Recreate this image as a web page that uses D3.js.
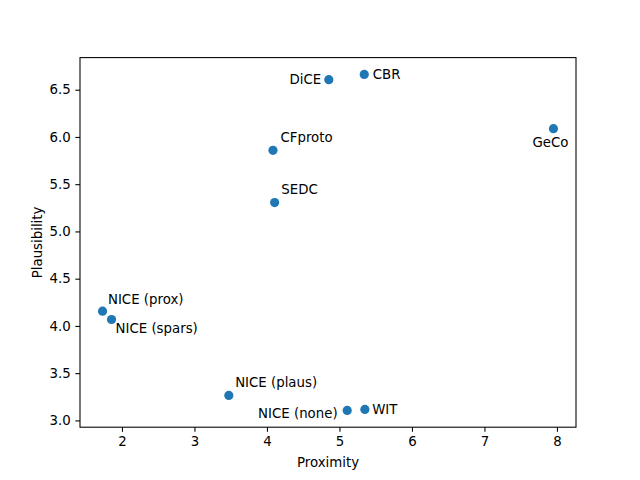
<!DOCTYPE html>
<html>
<head>
<meta charset="utf-8">
<script src="https://cdn.jsdelivr.net/npm/d3@7"></script>
<style>
  body { margin: 0; background: #fff; }
  svg text { font-family: "DejaVu Sans", sans-serif; fill: #000; }
</style>
</head>
<body>
<div id="chart"></div>
<script>
// data
const methods = ['DiCE', 'CBR', 'GeCo', 'CFproto', 'SEDC', 'NICE (prox)', 'NICE (spars)', 'NICE (plaus)', 'NICE (none)', 'WIT'];
const proximity = [4.853, 5.342, 7.952, 4.083, 4.106, 1.732, 1.856, 3.474, 5.107, 5.351];
const plausibility = [6.606, 6.662, 6.088, 5.858, 5.305, 4.156, 4.068, 3.264, 3.106, 3.116];
const xTicks = [2, 3, 4, 5, 6, 7, 8];
const yTicks = [3.0, 3.5, 4.0, 4.5, 5.0, 5.5, 6.0, 6.5];

// label placement (offset from the point, in px) - layout only
const labelPlace = [
    { dx: -7.5, dy: 4.5, anchor: 'end' },
    { dx: 8.5, dy: 4.3, anchor: 'start' },
    { dx: -3, dy: 18.5, anchor: 'middle' },
    { dx: 7.5, dy: -8.3, anchor: 'start' },
    { dx: 6.7, dy: -9, anchor: 'start' },
    { dx: 5.4, dy: -7, anchor: 'start' },
    { dx: 4, dy: 13.4, anchor: 'start' },
    { dx: 6.3, dy: -8.6, anchor: 'start' },
    { dx: -9.6, dy: 8, anchor: 'end' },
    { dx: 7.3, dy: 4.7, anchor: 'start' }
];

const width = 640;
const height = 480;
const margin = { top: 57.6, right: 64, bottom: 52.8, left: 80 };
const color = '#1f77b4';

// matplotlib style 5% padding on the data range
function padded(values) {
    const [lo, hi] = d3.extent(values);
    const pad = (hi - lo) * 0.05;
    return [lo - pad, hi + pad];
}

const x = d3.scaleLinear()
    .domain(padded(proximity))
    .range([margin.left, width - margin.right]);

const y = d3.scaleLinear()
    .domain(padded(plausibility))
    .range([height - margin.bottom, margin.top]);

const svg = d3.select('#chart')
    .append('svg')
    .attr('width', width)
    .attr('height', height);

const xAxis = svg.append('g')
    .attr('transform', `translate(0,${height - margin.bottom})`)
    .call(d3.axisBottom(x).tickValues(xTicks).tickFormat(d3.format('d')).tickSize(4.67).tickPadding(4.67));

const yAxis = svg.append('g')
    .attr('transform', `translate(${margin.left},0)`)
    .call(d3.axisLeft(y).tickValues(yTicks).tickFormat(d3.format('.1f')).tickSize(4.67).tickPadding(4.67));

[xAxis, yAxis].forEach(ax => {
    ax.select('.domain').remove();
    ax.selectAll('.tick line').attr('stroke', '#000').attr('stroke-width', 1.07);
    ax.selectAll('.tick text')
        .style('font-family', '"DejaVu Sans", sans-serif')
        .style('font-size', '13.33px');
});

// frame
svg.append('rect')
    .attr('x', margin.left)
    .attr('y', margin.top)
    .attr('width', width - margin.left - margin.right)
    .attr('height', height - margin.top - margin.bottom)
    .attr('fill', 'none')
    .attr('stroke', '#000')
    .attr('stroke-width', 1.07);

const points = methods.map((m, i) => ({ name: m, px: proximity[i], pl: plausibility[i], place: labelPlace[i] }));

svg.selectAll('circle')
    .data(points)
    .enter()
    .append('circle')
    .attr('cx', d => x(d.px))
    .attr('cy', d => y(d.pl))
    .attr('r', 4.6)
    .attr('fill', color);

svg.selectAll('text.label')
    .data(points)
    .enter()
    .append('text')
    .attr('class', 'label')
    .attr('x', d => x(d.px) + d.place.dx)
    .attr('y', d => y(d.pl) + d.place.dy)
    .attr('text-anchor', d => d.place.anchor)
    .style('font-size', '13.33px')
    .text(d => d.name);

svg.append('text')
    .attr('x', (margin.left + width - margin.right) / 2)
    .attr('y', 466.8)
    .attr('text-anchor', 'middle')
    .style('font-size', '13.33px')
    .text('Proximity');

svg.append('text')
    .attr('transform', `translate(42,${(margin.top + height - margin.bottom) / 2}) rotate(-90)`)
    .attr('text-anchor', 'middle')
    .style('font-size', '13.33px')
    .text('Plausibility');
</script>
</body>
</html>
